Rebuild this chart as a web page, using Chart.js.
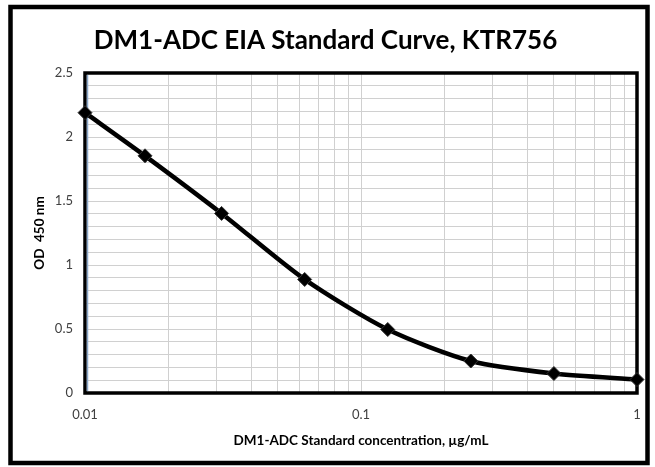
<!DOCTYPE html>
<html>
<head>
<meta charset="utf-8">
<script src="https://cdn.jsdelivr.net/npm/chart.js@4"></script>
<style>
  html, body { margin: 0; padding: 0; background: #fff; }
  #wrap { width: 655px; height: 467px; }
</style>
</head>
<body>
<div id="wrap"><canvas id="curve"></canvas></div>
<script>
// standard curve data
const concentrations = [0.01, 0.0165, 0.03125, 0.0625, 0.125, 0.25, 0.5, 1];
const odValues = [2.19, 1.853, 1.403, 0.887, 0.496, 0.250, 0.152, 0.105];
const xTickLabels = [0.01, 0.1, 1];
const yTickLabels = [0, 0.5, 1, 1.5, 2, 2.5];

const FONT = 'Lato, "Open Sans", sans-serif';

// outer frame + plot frame
const framePlugin = {
  id: 'frames',
  beforeDatasetsDraw(chart){
    const {ctx, chartArea: a} = chart;
    ctx.save();
    ctx.strokeStyle = '#000';
    ctx.lineWidth = 3.5;
    ctx.strokeRect(a.left, a.top, a.right - a.left, a.bottom - a.top);
    ctx.strokeStyle = '#8aa6c8';
    ctx.lineWidth = 1.5;
    ctx.beginPath();
    ctx.moveTo(a.left + 2.5, a.top + 2);
    ctx.lineTo(a.left + 2.5, a.bottom - 2);
    ctx.stroke();
    ctx.restore();
  },
  afterDraw(chart){
    const ctx = chart.ctx;
    ctx.save();
    ctx.strokeStyle = '#000';
    ctx.lineWidth = 4.5;
    ctx.strokeRect(10.5, 7, 637, 456);
    ctx.restore();
  }
};

const ctx = document.getElementById('curve');
new Chart(ctx, {
  type: 'line',
  data: {
    datasets: [{
      data: concentrations.map((c, i) => ({x: c, y: odValues[i]})),
      borderColor: '#000',
      borderWidth: 4.5,
      backgroundColor: '#000',
      pointStyle: 'rectRot',
      pointRadius: 7,
      pointBackgroundColor: '#000',
      pointBorderColor: '#333',
      pointBorderWidth: 1,
      tension: 0.25,
      clip: false
    }]
  },
  options: {
    responsive: true,
    maintainAspectRatio: false,
    animation: false,
    layout: { padding: { left: 14, right: 18, top: 0, bottom: 0 } },
    plugins: {
      legend: { display: false },
      tooltip: { enabled: false },
      title: {
        display: true,
        text: 'DM1-ADC EIA Standard Curve, KTR756',
        color: '#000',
        font: { family: FONT, size: 26, weight: 'bold', lineHeight: 1.2 },
        padding: { top: 25, bottom: 16.8 }
      }
    },
    scales: {
      x: {
        type: 'logarithmic',
        min: 0.01,
        max: 1,
        afterBuildTicks(scale){
          const t = [];
          for (let d = 0.01; d < 1; d *= 10) {
            for (let m = 1; m < 10; m++) t.push({value: +(m * d).toPrecision(3)});
          }
          t.push({value: 1});
          scale.ticks = t;
        },
        afterFit(scale){ scale.height = 74; },
        ticks: {
          autoSkip: false,
          maxRotation: 0,
          padding: 14,
          color: '#404040',
          font: { family: FONT, size: 13 },
          callback(v){ return xTickLabels.includes(+(+v).toPrecision(3)) ? String(+(+v).toPrecision(3)) : ''; }
        },
        grid: { color: '#d0d0d0', lineWidth: 1, drawTicks: false },
        border: { display: false },
        title: {
          display: true,
          text: 'DM1-ADC Standard concentration, µg/mL',
          color: '#000',
          font: { family: FONT, size: 13.5, weight: 'bold' },
          padding: { top: 0, bottom: 18 }
        }
      },
      y: {
        min: 0,
        max: 2.5,
        afterBuildTicks(scale){
          const t = [];
          for (let i = 0; i <= 25; i++) t.push({value: i / 10});
          scale.ticks = t;
        },
        afterFit(scale){ scale.width = 71; },
        ticks: {
          autoSkip: false,
          padding: 12,
          color: '#404040',
          font: { family: FONT, size: 13 },
          callback(v){
            const r = Math.round(v * 10) / 10;
            return yTickLabels.includes(r) ? String(r) : '';
          }
        },
        grid: { color: '#d0d0d0', lineWidth: 1, drawTicks: false },
        border: { display: false },
        title: {
          display: true,
          text: 'OD  450 nm',
          color: '#000',
          font: { family: FONT, size: 13.5, weight: 'bold' },
          padding: { top: 18, bottom: 0 }
        }
      }
    }
  },
  plugins: [framePlugin]
});
</script>
</body>
</html>
